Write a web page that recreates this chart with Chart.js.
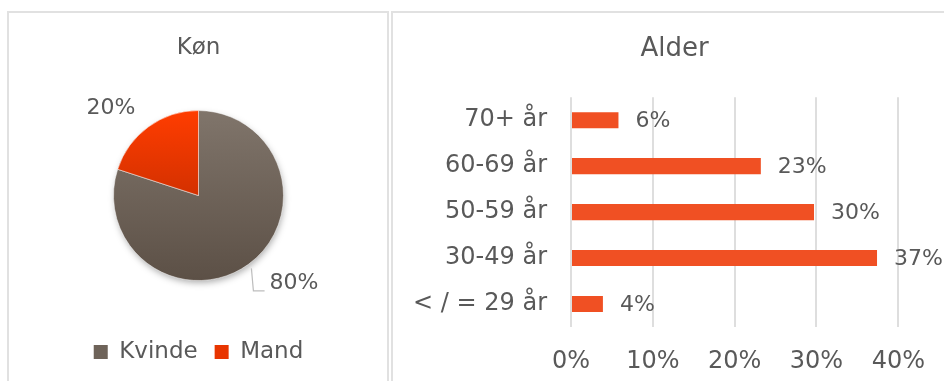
<!DOCTYPE html>
<html><head><meta charset="utf-8">
<script src="https://cdn.jsdelivr.net/npm/chart.js@4/dist/chart.umd.min.js"></script>
<style>
html,body{margin:0;padding:0;background:#fff;width:944px;height:381px;overflow:hidden;}
.panel{position:absolute;border:2px solid #e1e1e1;box-sizing:content-box;overflow:hidden;}
#p1{left:7px;top:11px;width:378px;height:400px;}
#p2{left:391px;top:11px;width:600px;height:400px;}
canvas{position:absolute;left:0;top:0;}
</style></head><body>
<div class="panel" id="p1"><canvas id="pie" width="378" height="368" style="width:378px;height:368px"></canvas></div>
<div class="panel" id="p2"><canvas id="bar" width="563" height="388" style="width:563px;height:388px"></canvas></div>
<script>
// ---- data ----
const genderLabels = ['Kvinde', 'Mand'];
const genderValues = [80, 20];
const ageLabels = ['70+ år', '60-69 år', '50-59 år', '30-49 år', '< / = 29 år'];
const ageValues = [5.8, 23.2, 29.7, 37.4, 3.9];
const ageTickLabels = ['0%', '10%', '20%', '30%', '40%'];

// ---- style ----
const F = '"DejaVu Sans", Verdana, sans-serif';
const TXT = '#595959';
const pieRadius = 85;
const sliceTop = ['#80756b', '#ff3d00'];
const sliceBottom = ['#5c5046', '#a82400'];
const legendColors = ['#6e6359', '#e83500'];
const leaderLines = [true, false];
Chart.defaults.font.family = F;

function sliceFill(ctx) {
  const ch = ctx.chart, a = ch.chartArea, i = ctx.dataIndex;
  if (!a) return sliceTop[i];
  const cy = (a.top + a.bottom) / 2;
  const g = ch.ctx.createLinearGradient(0, cy - pieRadius, 0, cy + pieRadius);
  g.addColorStop(0, sliceTop[i]);
  g.addColorStop(1, sliceBottom[i]);
  return g;
}

const pieDeco = {
  id: 'pieDeco',
  beforeDatasetsDraw(chart) {
    const arc = chart.getDatasetMeta(0).data[0];
    if (!arc) return;
    const c = chart.ctx;
    c.save();
    c.shadowColor = 'rgba(0,0,0,0.35)';
    c.shadowBlur = 7; c.shadowOffsetX = 1; c.shadowOffsetY = 3;
    c.beginPath(); c.arc(arc.x, arc.y, arc.outerRadius - 1, 0, Math.PI * 2);
    c.fillStyle = '#6a5f55'; c.fill();
    c.restore();
  },
  afterDatasetsDraw(chart) {
    const meta = chart.getDatasetMeta(0), c = chart.ctx;
    c.save();
    c.font = '22px ' + F; c.fillStyle = TXT;
    c.textAlign = 'center'; c.textBaseline = 'middle';
    meta.data.forEach((arc, i) => {
      const mid = (arc.startAngle + arc.endAngle) / 2;
      const dx = Math.cos(mid), dy = Math.sin(mid);
      const r = arc.outerRadius + 18;
      const sx = dx >= 0 ? 1 : -1, sy = dy >= 0 ? 1 : -1;
      const lx = arc.x + dx * r + sx * 31 + 4, ly = arc.y + dy * r + sy * 4;
      const txt = genderValues[i] + '%';
      c.fillText(txt, lx, ly);
      if (leaderLines[i]) {
        const w = c.measureText(txt).width;
        const p0x = arc.x + dx * (arc.outerRadius + 5), p0y = arc.y + dy * (arc.outerRadius + 5);
        const by = ly + 8;
        c.save();
        c.strokeStyle = '#bdbdbd'; c.lineWidth = 1.2;
        c.beginPath(); c.moveTo(p0x, p0y); c.lineTo(p0x + 2, by); c.lineTo(lx - w / 2 - 5, by); c.stroke();
        c.restore();
      }
    });
    c.restore();
  }
};

new Chart(document.getElementById('pie'), {
  type: 'pie',
  data: {
    labels: genderLabels,
    datasets: [{
      data: genderValues,
      backgroundColor: sliceFill,
      borderColor: 'rgba(255,255,255,0.5)',
      borderWidth: 1,
      radius: pieRadius
    }]
  },
  options: {
    responsive: false,
    animation: false,
    layout: { padding: { left: 1, right: 0, top: 0, bottom: 7.5 } },
    plugins: {
      tooltip: { enabled: false },
      title: { display: true, text: 'Køn', color: TXT, font: { family: F, size: 23, weight: 'normal' }, padding: { top: 21, bottom: 6 } },
      legend: {
        position: 'bottom',
        labels: {
          boxWidth: 14, boxHeight: 14, padding: 17, color: TXT,
          font: { family: F, size: 23 },
          generateLabels(chart) {
            const items = Chart.overrides.pie.plugins.legend.labels.generateLabels(chart);
            return items.map((it, i) => Object.assign(it, { fillStyle: legendColors[i], strokeStyle: legendColors[i], lineWidth: 0 }));
          }
        }
      }
    }
  },
  plugins: [pieDeco]
});

const barLabels = {
  id: 'barLabels',
  afterDatasetsDraw(chart) {
    const c = chart.ctx;
    c.save();
    c.font = '22px ' + F; c.fillStyle = TXT;
    c.textAlign = 'left'; c.textBaseline = 'middle';
    chart.getDatasetMeta(0).data.forEach((b, i) => {
      c.fillText(Math.round(ageValues[i]) + '%', b.x + 17, b.y + 1);
    });
    c.restore();
  }
};

new Chart(document.getElementById('bar'), {
  type: 'bar',
  data: {
    labels: ageLabels,
    datasets: [{
      data: ageValues,
      backgroundColor: '#f05023',
      borderWidth: 0,
      barPercentage: 0.35,
      categoryPercentage: 1,
      xAxisID: 'x',
      yAxisID: 'y'
    }]
  },
  options: {
    indexAxis: 'y',
    responsive: false,
    animation: false,
    layout: { padding: { left: 20, right: 20, top: 0, bottom: 5.2 } },
    plugins: {
      legend: { display: false },
      tooltip: { enabled: false },
      title: { display: true, text: 'Alder', color: TXT, font: { family: F, size: 26, weight: 'normal' }, padding: { top: 21, bottom: 32 } }
    },
    scales: {
      x: {
        min: 0, max: 40,
        ticks: { stepSize: 10, callback: (v, i) => ageTickLabels[i], color: TXT, font: { family: F, size: 24 }, padding: 20, maxRotation: 0 },
        grid: { color: '#dedede', lineWidth: 2, drawTicks: false },
        border: { display: false }
      },
      y: {
        afterFit(scale) { scale.width = 158; },
        ticks: { color: TXT, font: { family: F, size: 24 }, padding: 24 },
        grid: { display: false, drawTicks: false },
        border: { display: false }
      },
      yRight: {
        type: 'category',
        axis: 'y',
        position: 'right',
        labels: ageLabels,
        afterFit(scale) { scale.width = 37.7; },
        ticks: { display: false },
        grid: { display: false, drawTicks: false },
        border: { display: false }
      }
    }
  },
  plugins: [barLabels]
});
</script>
</body></html>
